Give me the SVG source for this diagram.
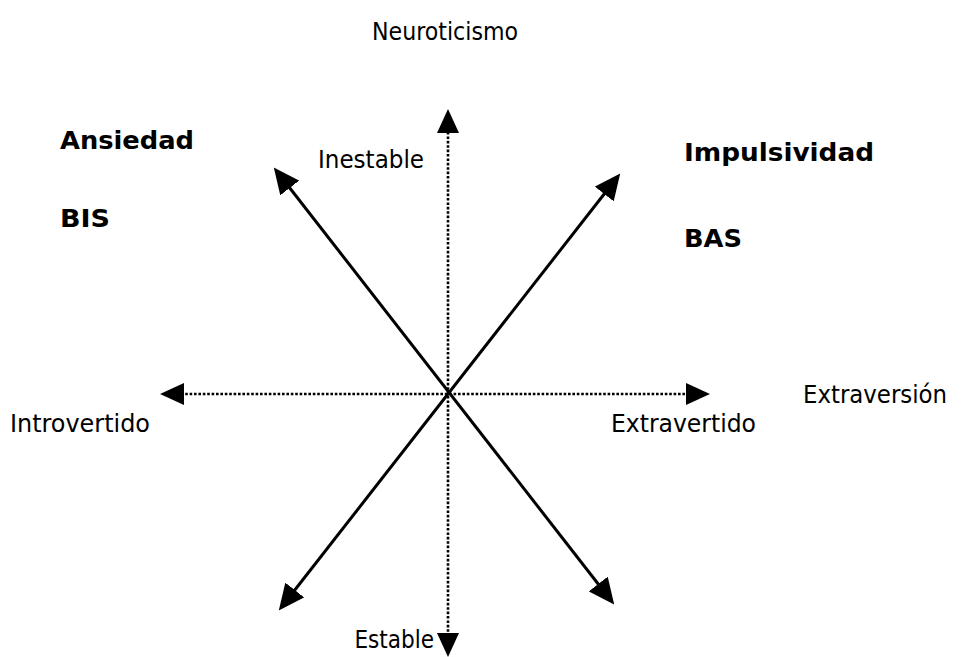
<svg xmlns="http://www.w3.org/2000/svg" width="964" height="657" viewBox="0 0 964 657">
<style>
.t{font-family:"DejaVu Sans Condensed","DejaVu Sans",sans-serif;font-stretch:condensed;font-size:24px;fill:#000}
.b{font-family:"DejaVu Sans Condensed","DejaVu Sans",sans-serif;font-stretch:condensed;font-size:24px;font-weight:bold;fill:#000}
.dot{stroke:#000;stroke-width:2.6;stroke-dasharray:2.6 1.8;fill:none}
.sol{stroke:#000;stroke-width:3;fill:none}
</style>
<defs>
<marker id="ah" markerUnits="userSpaceOnUse" markerWidth="24" markerHeight="22" refX="12" refY="11" orient="auto-start-reverse" viewBox="0 0 24 22">
<path d="M0,0 L24,11 L0,22 z" fill="#000"/>
</marker>
<marker id="ad" markerUnits="userSpaceOnUse" markerWidth="26" markerHeight="24" refX="12" refY="12" orient="auto-start-reverse" viewBox="0 0 26 24">
<path d="M0,0 L26,12 L0,24 z" fill="#000"/>
</marker>
</defs>
<g id="connectors">
<line class="dot" x1="448" y1="645" x2="448" y2="121" marker-start="url(#ah)" marker-end="url(#ah)"/>
<line class="dot" x1="172" y1="394" x2="698" y2="394" marker-start="url(#ah)" marker-end="url(#ah)"/>
<line class="sol" x1="605.6" y1="593.5" x2="282.4" y2="178.5" marker-start="url(#ad)" marker-end="url(#ad)"/>
<line class="sol" x1="287.4" y1="599.5" x2="611.6" y2="184.5" marker-start="url(#ad)" marker-end="url(#ad)"/>
</g>
<g id="neuroticismo"><text class="t" x="372" y="40" textLength="146" lengthAdjust="spacingAndGlyphs">Neuroticismo</text></g>
<g id="inestable"><text class="t" x="318" y="168" textLength="106" lengthAdjust="spacingAndGlyphs">Inestable</text></g>
<g id="estable"><text class="t" x="434" y="648" text-anchor="end">Estable</text></g>
<g id="introvertido"><text class="t" x="10" y="432" textLength="140" lengthAdjust="spacingAndGlyphs">Introvertido</text></g>
<g id="extravertido"><text class="t" x="611" y="432" textLength="145" lengthAdjust="spacingAndGlyphs">Extravertido</text></g>
<g id="extraversion"><text class="t" x="803" y="403" textLength="144" lengthAdjust="spacingAndGlyphs">Extraversión</text></g>
<g id="ansiedad"><text class="b" x="60" y="149" textLength="134" lengthAdjust="spacingAndGlyphs">Ansiedad</text></g>
<g id="bis"><text class="b" x="60" y="227" textLength="50" lengthAdjust="spacingAndGlyphs">BIS</text></g>
<g id="impulsividad"><text class="b" x="684" y="161" textLength="190" lengthAdjust="spacingAndGlyphs">Impulsividad</text></g>
<g id="bas"><text class="b" x="684" y="247" textLength="58" lengthAdjust="spacingAndGlyphs">BAS</text></g>
</svg>
